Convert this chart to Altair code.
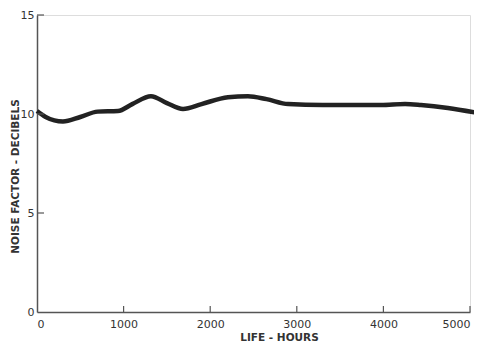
import altair as alt
import pandas as pd

hours = [0, 100, 300, 500, 700, 935, 1100, 1316, 1500, 1686, 1900, 2205, 2436, 2650, 2900, 3300, 3972, 4250, 4434, 4745, 5092]
noise = [10.15, 9.85, 9.62, 9.85, 10.12, 10.15, 10.5, 10.9, 10.55, 10.25, 10.5, 10.85, 10.9, 10.75, 10.5, 10.45, 10.45, 10.5, 10.45, 10.3, 10.05]
x_ticks = [0, 1000, 2000, 3000, 4000, 5000]
y_ticks = [0, 5, 10, 15]

df = pd.DataFrame({"h": hours, "n": noise})
W, H = 433, 297

xs = alt.Scale(domain=[0, 5000], nice=False)
ys = alt.Scale(domain=[0, 15], nice=False)

axis_common = dict(
    domainColor="#555", domainWidth=1.5, ticks=False, grid=False,
    labelFont="DejaVu Sans", labelFontSize=11, labelColor="#333", format="d",
    titleFont="DejaVu Sans", titleFontSize=10.5, titleFontWeight="bold", titleColor="#333",
)

line = alt.Chart(df).mark_line(
    color="#222", strokeWidth=4.5, interpolate="monotone", clip=False
).encode(
    x=alt.X("h:Q", scale=xs, axis=alt.Axis(values=x_ticks, title="LIFE - HOURS",
                                            labelPadding=6, titleX=242, titlePadding=3, **axis_common)),
    y=alt.Y("n:Q", scale=ys, axis=alt.Axis(values=y_ticks, title="NOISE FACTOR - DECIBELS",
                                            labelPadding=3, titleY=161, titleX=-22, titleAngle=-90,
                                            titleBaseline="middle", **axis_common)),
)

xt = alt.Chart(pd.DataFrame({"t": x_ticks[1:]})).mark_rule(color="#555", strokeWidth=1.2).encode(
    x=alt.X("t:Q", scale=xs), y=alt.value(H), y2=alt.value(H - 6)
)
yt = alt.Chart(pd.DataFrame({"t": y_ticks[1:]})).mark_rule(color="#555", strokeWidth=1.2).encode(
    y=alt.Y("t:Q", scale=ys), x=alt.value(0), x2=alt.value(7)
)

chart = alt.layer(line, xt, yt).properties(
    width=W, height=H,
    autosize=alt.AutoSizeParams(type="none"),
    padding={"left": 29, "top": 7, "right": 4, "bottom": 31},
).configure_view(stroke=None).configure(background="white")

chart.save("out.html", embed_options={"renderer": "svg", "actions": False})
